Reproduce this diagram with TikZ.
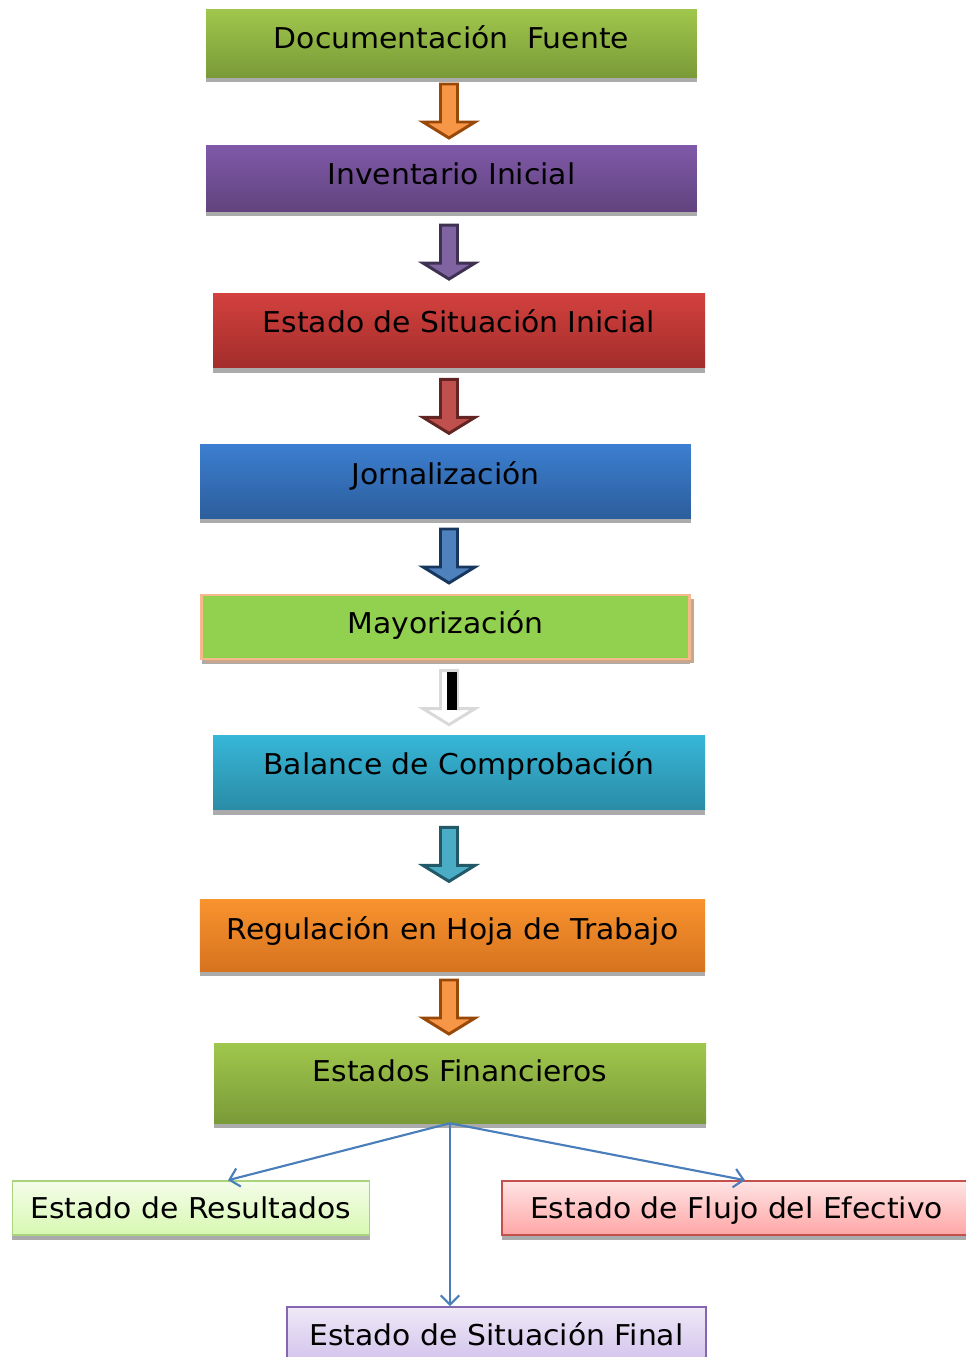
\documentclass[tikz,border=0pt]{standalone}
\usepackage{fontspec}
\setmainfont[FakeStretch=1.04]{DejaVu Sans}
\usetikzlibrary{calc,shadows,arrows.meta}

\definecolor{verdeA}{HTML}{A0C74C}
\definecolor{verdeB}{HTML}{7A9A38}
\definecolor{moradoA}{HTML}{7F59A8}
\definecolor{moradoB}{HTML}{62437F}
\definecolor{rojoA}{HTML}{D3413E}
\definecolor{rojoB}{HTML}{A22D2B}
\definecolor{azulA}{HTML}{3C7ED0}
\definecolor{azulB}{HTML}{2C5E9C}
\definecolor{cianA}{HTML}{37B6D8}
\definecolor{cianB}{HTML}{2A8CA6}
\definecolor{naranjaA}{HTML}{F9932F}
\definecolor{naranjaB}{HTML}{D6731E}
\definecolor{lima}{HTML}{92D050}
\definecolor{durazno}{HTML}{F5B98C}
\definecolor{sombra}{HTML}{C9A78D}
\definecolor{linea}{HTML}{4A7EBB}
% colores de las flechas
\definecolor{flNar}{HTML}{F79646}
\definecolor{flNarB}{HTML}{984807}
\definecolor{flMor}{HTML}{8064A2}
\definecolor{flMorB}{HTML}{3F3151}
\definecolor{flRoj}{HTML}{C0504D}
\definecolor{flRojB}{HTML}{632523}
\definecolor{flAzu}{HTML}{4F81BD}
\definecolor{flAzuB}{HTML}{17375E}
\definecolor{flCia}{HTML}{4BACC6}
\definecolor{flCiaB}{HTML}{215968}
% colores de los estados finales
\definecolor{resA}{HTML}{F4FDE9}
\definecolor{resB}{HTML}{D8F8B2}
\definecolor{resC}{HTML}{A9D37C}
\definecolor{fluA}{HTML}{FFE4E4}
\definecolor{fluB}{HTML}{FFA6A6}
\definecolor{fluC}{HTML}{C4504D}
\definecolor{finA}{HTML}{EFE9F7}
\definecolor{finB}{HTML}{D2C2EC}
\definecolor{finC}{HTML}{8566B0}

\tikzset{
  caja/.style={rectangle, inner sep=0pt, text height=16pt,
    font=\fontsize{21.5}{25}\selectfont,
    drop shadow={shadow xshift=0pt, shadow yshift=-3.8pt, fill=black!33, opacity=1}},
  sube/.style={text depth=#1},
  clara/.style 2 args={caja, top color=#1, bottom color=#2},
  flecha/.style 2 args={fill=#1, draw=#2, line width=2.2pt, line join=miter},
  rama/.style={draw=linea, line width=1.6pt, ->, >={Straight Barb[length=7pt,width=14pt]}}
}

% bloque de flecha entre dos cajas
\newcommand{\bajada}[3]{%
  \path ($(#1.south)!0.5!(#2.north)$) coordinate (m);
  \draw[#3] (m -| eje) ++(-8.5,-27) -- ++(17,0) -- ++(0,38) -- ++(17.5,0)
    -- ++(-26,16) -- ++(-26,-16) -- ++(17.5,0) -- cycle;
}

\begin{document}
\begin{tikzpicture}[x=0.75pt, y=-0.75pt]
  \useasboundingbox (0,0) rectangle (966,1357);
  \coordinate (eje) at (449,0);

  % cajas del proceso
  \node[clara={verdeA}{verdeB}, sube=8pt, minimum width=368pt, minimum height=51pt]
    (fuente) at (451.5,43) {Documentación\ \ Fuente};
  \node[clara={moradoA}{moradoB}, sube=6.5pt, minimum width=368pt, minimum height=49.5pt]
    (inventario) at (451.5,178) {Inventario Inicial};
  \node[clara={rojoA}{rojoB}, sube=12.5pt, minimum width=369pt, minimum height=56pt]
    (inicial) at (459,330.5) {Estado de Situación Inicial};
  \node[clara={azulA}{azulB}, sube=11pt, minimum width=368pt, minimum height=55pt]
    (jornal) at (445.5,481.5) {Jornalización};
  \node[caja, fill=lima, draw=durazno, line width=2.2pt, sube=6.5pt,
    minimum width=366pt, minimum height=48pt,
    drop shadow={shadow xshift=3pt, shadow yshift=-3pt, fill=sombra, opacity=1}]
    (mayor) at (445.5,627) {Mayorización};
  \node[clara={cianA}{cianB}, sube=12.5pt, minimum width=369pt, minimum height=56pt]
    (balance) at (459,772.5) {Balance de Comprobación};
  \node[clara={naranjaA}{naranjaB}, sube=9.5pt, minimum width=379pt, minimum height=54pt]
    (hoja) at (452.5,935) {Regulación en Hoja de Trabajo};
  \node[clara={verdeA}{verdeB}, sube=18.5pt, minimum width=369pt, minimum height=60pt]
    (estados) at (460,1083) {Estados Financieros};

  % estados finales
  \node[clara={resA}{resB}, draw=resC, line width=1.2pt,
    sube=0pt, minimum width=268pt, minimum height=40.5pt]
    (resultados) at (191,1208) {Estado de Resultados};
  \node[clara={fluA}{fluB}, draw=fluC, line width=1.2pt,
    sube=0pt, minimum width=352pt, minimum height=40.5pt]
    (flujo) at (736.5,1208) {Estado de Flujo del Efectivo};
  \node[clara={finA}{finB}, draw=finC, line width=1.2pt,
    sube=0pt, minimum width=314pt, minimum height=42pt]
    (final) at (496.5,1335) {Estado de Situación Final};

  % flechas
  \bajada{fuente}{inventario}{flecha={flNar}{flNarB}}
  \bajada{inventario}{inicial}{flecha={flMor}{flMorB}}
  \bajada{inicial}{jornal}{flecha={flRoj}{flRojB}}
  \bajada{jornal}{mayor}{flecha={flAzu}{flAzuB}}
  \bajada{mayor}{balance}{flecha={white}{black!15}}
  \fill[black] ($(mayor.south)!0.5!(balance.north)$ -| eje) ++(-5,-26) rectangle ++(10,38);
  \bajada{balance}{hoja}{flecha={flCia}{flCiaB}}
  \bajada{hoja}{estados}{flecha={flNar}{flNarB}}

  % ramas
  \coordinate (raiz) at ($(estados.south)+(-10,0)$);
  \draw[rama] (raiz) -- ($(resultados.north)+(37,0)$);
  \draw[rama] (raiz) -- (final.north -| raiz);
  \draw[rama] (raiz) -- ($(flujo.north)+(8.5,0)$);
\end{tikzpicture}
\end{document}
